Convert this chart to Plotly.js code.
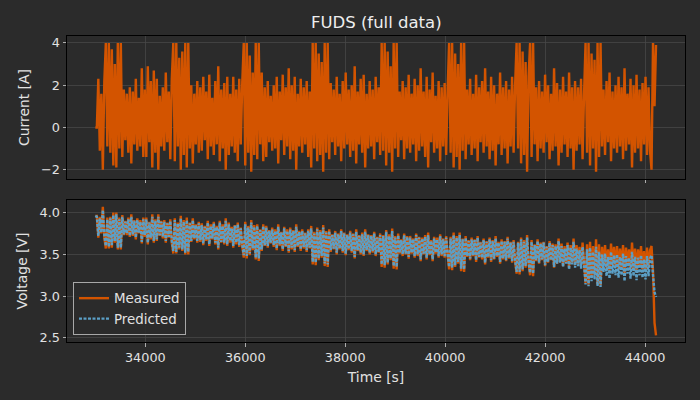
<!DOCTYPE html>
<html>
<head>
<meta charset="utf-8">
<script src="https://cdn.plot.ly/plotly-3.0.1.min.js"></script>
<style>
html,body{margin:0;padding:0;background:#2b2b2b;}
#chart{width:700px;height:400px;}
</style>
</head>
<body>
<div id="chart"></div>
<script>
// Sampling of the record (seconds)
const startTime = 33000;
const sampleStep = 30;

// Current [A]
const current = [
0,0,2.3,-1.1,1.6,-2.0,2.2,4.0,-0.9,4.0,
-1.2,3.7,-1.8,3.0,-1.9,4.0,-1.0,4.0,-1.4,1.8,
-0.6,1.6,-1.2,1.9,-1.7,1.7,-0.8,2.3,-1.1,1.4,
-0.9,2.8,-1.4,1.8,-1.4,2.9,-0.7,2.2,-1.9,2.7,
-1.2,2.3,-2.0,1.5,-0.9,1.9,-1.1,2.6,-0.7,1.7,
-1.5,2.3,4.0,-1.6,4.0,-0.9,3.3,-2.0,3.6,-1.3,
4.0,-1.9,4.0,-1.0,2.0,-1.7,1.6,-0.8,2.2,-1.2,
1.9,-1.1,2.4,-0.6,1.7,-1.5,2.5,-0.9,1.4,-1.3,
2.2,-0.8,2.9,-1.6,1.8,-1.0,2.1,-2.0,2.4,-1.3,
1.6,-0.9,2.4,-1.2,1.8,-1.6,2.3,-0.8,2.1,4.0,
-1.8,4.0,-1.2,3.4,-2.1,2.6,-1.3,4.0,-1.5,4.0,
-0.8,2.6,-1.6,1.9,-1.4,2.2,-0.7,1.5,-1.1,2.0,
-1.0,2.4,-1.7,1.7,-0.6,2.5,-1.3,1.9,-0.9,2.8,
-1.5,2.0,-1.1,2.4,-2.0,1.6,-0.9,2.3,-1.2,1.9,
-0.8,2.2,-1.4,1.7,-1.9,4.0,-1.0,4.0,-1.6,3.5,
-1.3,3.1,-2.1,4.0,-1.2,4.0,-1.5,2.1,-0.7,1.8,
-1.3,2.4,-0.9,1.6,-1.6,2.2,-1.0,2.6,-0.8,1.8,
-1.4,2.0,-1.1,2.9,-1.7,1.7,-0.8,2.3,-1.2,2.5,
-1.9,1.6,-1.0,2.2,-0.9,1.8,-1.5,2.4,-0.7,1.9,
-1.3,4.0,-1.1,4.0,-1.8,3.6,-1.2,2.9,-2.1,4.0,
-1.0,4.0,-1.4,1.7,-0.6,2.2,-1.5,1.9,-1.0,2.5,
-1.2,1.6,-0.8,2.3,-1.6,2.0,-1.1,2.8,-0.9,1.7,
-1.4,2.4,-1.9,1.8,-0.7,2.6,-1.2,1.5,-1.0,2.2,
-1.6,1.9,-0.9,2.1,-1.3,1.8,4.0,-1.2,4.0,-1.9,
3.5,-1.4,3.0,-2.0,4.0,-1.1,4.0,-1.5,1.8,-0.8,
2.3,-1.3,1.6,-1.0,2.5,-1.6,1.9,-0.7,2.2,-1.2,
2.8,-0.9,1.7,-1.5,2.4,-1.1,2.0,-1.8,1.6,-0.8,
2.6,-1.3,1.9,-1.0,2.2,-1.7,1.8,-0.9,2.4,-1.2,
2.0,4.0,-1.0,4.0,-1.7,3.6,-1.3,3.1,-2.1,2.4,
4.0,-1.4,4.0,-0.8,1.9,-1.6,2.2,-1.0,1.7,-1.2,
2.5,-0.7,2.0,-1.5,1.6,-1.1,2.8,-0.9,2.1,-1.8,
1.8,-1.2,2.4,-0.8,1.7,-1.4,2.6,-1.0,1.9,-2.0,
2.2,-1.1,1.9,-0.8,2.3,-1.5,1.6,4.0,-1.2,4.0,
-1.8,3.5,-1.0,3.2,-2.1,4.0,-1.4,4.0,-0.9,1.8,
-1.3,2.2,-0.7,2.6,-1.6,1.7,-1.0,2.0,-1.2,2.4,
-0.9,1.9,-1.5,2.8,-1.1,1.6,-0.8,2.3,-1.9,2.0,
-1.2,2.5,-1.0,1.8,-1.6,2.1,-0.8,2.4,-1.3,1.9,
-1.1,-2.0,4.0,1.0,3.9
];

// Voltage [V], measured
const voltageMeasured = [
3.96,3.96,3.70,3.95,3.75,4.07,3.70,3.57,3.94,3.57,
3.95,3.58,4.00,3.64,4.00,3.56,3.94,3.56,3.97,3.73,
3.90,3.73,3.94,3.71,3.98,3.72,3.91,3.68,3.93,3.75,
3.91,3.63,3.94,3.71,3.94,3.62,3.89,3.68,3.98,3.64,
3.92,3.66,3.98,3.72,3.90,3.69,3.91,3.64,3.88,3.70,
3.92,3.64,3.51,3.93,3.51,3.88,3.56,3.96,3.54,3.91,
3.50,3.94,3.50,3.88,3.65,3.93,3.68,3.86,3.64,3.89,
3.65,3.87,3.61,3.84,3.66,3.90,3.60,3.86,3.68,3.89,
3.62,3.84,3.56,3.90,3.64,3.86,3.62,3.93,3.60,3.88,
3.64,3.83,3.58,3.85,3.62,3.88,3.59,3.82,3.60,3.46,
3.89,3.45,3.84,3.49,3.91,3.55,3.85,3.44,3.86,3.42,
3.80,3.54,3.86,3.60,3.84,3.58,3.79,3.63,3.82,3.59,
3.80,3.55,3.86,3.60,3.77,3.54,3.83,3.59,3.80,3.52,
3.82,3.56,3.79,3.53,3.86,3.59,3.78,3.54,3.80,3.57,
3.76,3.53,3.80,3.57,3.84,3.38,3.77,3.37,3.82,3.43,
3.79,3.46,3.85,3.36,3.78,3.35,3.80,3.53,3.74,3.56,
3.78,3.50,3.75,3.56,3.80,3.52,3.76,3.49,3.74,3.55,
3.78,3.52,3.75,3.45,3.80,3.54,3.73,3.50,3.76,3.48,
3.80,3.54,3.74,3.50,3.73,3.52,3.77,3.48,3.71,3.52,
3.75,3.35,3.73,3.34,3.79,3.38,3.74,3.43,3.81,3.33,
3.72,3.32,3.75,3.51,3.68,3.48,3.75,3.50,3.72,3.45,
3.72,3.51,3.69,3.46,3.75,3.48,3.71,3.42,3.70,3.50,
3.73,3.44,3.76,3.49,3.67,3.42,3.71,3.51,3.70,3.46,
3.74,3.48,3.69,3.46,3.72,3.49,3.32,3.71,3.31,3.76,
3.35,3.72,3.39,3.76,3.30,3.69,3.29,3.72,3.47,3.67,
3.43,3.70,3.48,3.68,3.41,3.72,3.46,3.65,3.44,3.69,
3.38,3.66,3.46,3.70,3.41,3.67,3.44,3.72,3.47,3.65,
3.39,3.68,3.44,3.66,3.42,3.71,3.45,3.65,3.40,3.67,
3.42,3.27,3.65,3.26,3.70,3.30,3.67,3.34,3.73,3.39,
3.25,3.67,3.24,3.62,3.42,3.68,3.39,3.64,3.43,3.65,
3.36,3.60,3.40,3.66,3.43,3.63,3.34,3.62,3.39,3.69,
3.41,3.63,3.36,3.60,3.41,3.64,3.34,3.61,3.40,3.69,
3.37,3.61,3.39,3.59,3.36,3.64,3.41,3.16,3.62,3.14,
3.65,3.22,3.60,3.25,3.68,3.14,3.62,3.13,3.59,3.37,
3.61,3.33,3.56,3.30,3.63,3.36,3.59,3.34,3.60,3.31,
3.57,3.34,3.61,3.27,3.58,3.36,3.56,3.31,3.64,3.33,
3.57,3.29,3.56,3.35,3.60,3.32,3.54,3.30,3.58,3.34,
3.55,3.60,3.30,2.68,2.53
];

// Voltage [V], predicted
const voltagePredicted = [
3.96,3.95,3.72,3.93,3.76,4.03,3.72,3.60,3.92,3.59,
3.93,3.61,3.97,3.66,3.98,3.58,3.92,3.58,3.95,3.74,
3.89,3.75,3.92,3.72,3.95,3.74,3.90,3.70,3.91,3.76,
3.89,3.65,3.92,3.73,3.92,3.64,3.88,3.70,3.95,3.66,
3.90,3.68,3.95,3.73,3.89,3.71,3.89,3.66,3.87,3.71,
3.90,3.66,3.54,3.91,3.53,3.87,3.58,3.93,3.56,3.89,
3.52,3.91,3.53,3.87,3.66,3.91,3.69,3.85,3.66,3.87,
3.67,3.85,3.63,3.83,3.68,3.88,3.62,3.84,3.69,3.87,
3.64,3.83,3.58,3.88,3.65,3.84,3.64,3.90,3.62,3.86,
3.66,3.81,3.60,3.84,3.64,3.86,3.61,3.81,3.62,3.49,
3.86,3.48,3.82,3.51,3.88,3.57,3.83,3.46,3.84,3.45,
3.79,3.56,3.84,3.61,3.82,3.60,3.78,3.64,3.80,3.61,
3.78,3.57,3.83,3.62,3.76,3.56,3.81,3.60,3.78,3.54,
3.80,3.58,3.78,3.55,3.83,3.60,3.77,3.56,3.78,3.59,
3.75,3.55,3.78,3.58,3.81,3.41,3.75,3.40,3.80,3.45,
3.77,3.48,3.82,3.39,3.76,3.38,3.78,3.55,3.73,3.57,
3.76,3.52,3.74,3.57,3.78,3.54,3.75,3.51,3.73,3.56,
3.76,3.54,3.74,3.47,3.77,3.55,3.72,3.52,3.74,3.50,
3.77,3.55,3.73,3.52,3.72,3.54,3.75,3.50,3.70,3.53,
3.73,3.38,3.72,3.37,3.77,3.40,3.72,3.45,3.78,3.36,
3.70,3.35,3.73,3.52,3.67,3.50,3.73,3.51,3.71,3.47,
3.70,3.52,3.68,3.48,3.73,3.50,3.70,3.44,3.69,3.51,
3.71,3.46,3.73,3.50,3.66,3.44,3.69,3.52,3.68,3.48,
3.72,3.50,3.68,3.48,3.70,3.50,3.35,3.69,3.34,3.73,
3.37,3.70,3.41,3.73,3.33,3.68,3.32,3.70,3.48,3.66,
3.45,3.68,3.49,3.67,3.43,3.70,3.47,3.64,3.46,3.67,
3.40,3.65,3.47,3.68,3.43,3.66,3.45,3.69,3.48,3.64,
3.41,3.66,3.45,3.65,3.43,3.69,3.46,3.64,3.42,3.65,
3.43,3.29,3.64,3.29,3.68,3.32,3.65,3.36,3.70,3.40,
3.28,3.65,3.27,3.61,3.43,3.66,3.40,3.63,3.44,3.64,
3.37,3.59,3.41,3.64,3.43,3.61,3.35,3.60,3.39,3.66,
3.40,3.60,3.35,3.57,3.39,3.61,3.32,3.58,3.38,3.65,
3.34,3.57,3.36,3.55,3.33,3.59,3.37,3.14,3.56,3.12,
3.58,3.18,3.53,3.20,3.59,3.12,3.53,3.11,3.50,3.29,
3.51,3.24,3.47,3.21,3.53,3.27,3.49,3.25,3.50,3.22,
3.47,3.25,3.51,3.18,3.48,3.27,3.46,3.21,3.53,3.24,
3.47,3.19,3.46,3.25,3.49,3.22,3.44,3.20,3.48,3.24,
3.45,3.49,3.25,3.05,2.99
];

const timeTicks = [34000, 36000, 38000, 40000, 42000, 44000];
const currentTicks = [-2, 0, 2, 4];
const voltageTicks = [2.5, 3.0, 3.5, 4.0];

const time = current.map((_, i) => startTime + i * sampleStep);

const BG = '#2b2b2b';
const GRID = '#474747';
const TXT = '#e2e2e2';
const ORANGE = '#d35400';
const BLUE = '#5b9fc6';
const FONT = 'DejaVu Sans, Liberation Sans, sans-serif';

const traces = [
  {x: time, y: current, xaxis: 'x', yaxis: 'y', type: 'scatter', mode: 'lines',
   line: {color: ORANGE, width: 2.4, simplify: false}, showlegend: false, hoverinfo: 'skip'},
  {x: time, y: voltageMeasured, xaxis: 'x2', yaxis: 'y2', type: 'scatter', mode: 'lines',
   name: 'Measured', line: {color: ORANGE, width: 2.4, simplify: false}, hoverinfo: 'skip'},
  {x: time, y: voltagePredicted, xaxis: 'x2', yaxis: 'y2', type: 'scatter', mode: 'lines',
   name: 'Predicted', line: {color: BLUE, width: 2.4, dash: '3px,1.5px', simplify: false}, hoverinfo: 'skip'}
];

const axisCommon = {
  showline: true, linecolor: '#000000', linewidth: 1, mirror: true,
  showgrid: true, gridcolor: GRID, gridwidth: 0.8, zeroline: false,
  ticks: 'outside', ticklen: 3.5, tickwidth: 0.8, tickcolor: '#d0d0d0',
  tickfont: {family: FONT, size: 12.8, color: TXT}
};

const xRange = [32433, 44800];

const layout = {
  width: 700, height: 400,
  paper_bgcolor: BG, plot_bgcolor: BG,
  margin: {l: 67, r: 15, t: 36, b: 58},
  font: {family: FONT, color: TXT},
  title: {text: 'FUDS (full data)', font: {family: FONT, size: 16.5, color: '#eeeeee'},
          x: 0.5375, xanchor: 'center', y: 0.945, yanchor: 'middle'},
  showlegend: true,
  legend: {x: 0.0097, y: 0.023, xanchor: 'left', yanchor: 'bottom',
           bgcolor: 'rgba(43,43,43,0.85)', bordercolor: '#a8a8a8', borderwidth: 1,
           font: {family: FONT, size: 13.4, color: TXT}, itemwidth: 30, tracegroupgap: 0},
  xaxis: Object.assign({}, axisCommon, {domain: [0, 1], anchor: 'y', range: xRange,
           tickvals: timeTicks, showticklabels: false}),
  yaxis: Object.assign({}, axisCommon, {domain: [0.5327, 1], anchor: 'x', range: [-2.44, 4.33],
           tickvals: currentTicks, ticktext: currentTicks.map(v => v < 0 ? '\u2212' + Math.abs(v) : String(v)),
           title: {text: 'Current [A]', font: {family: FONT, size: 13.9, color: TXT}, standoff: 8}}),
  xaxis2: Object.assign({}, axisCommon, {domain: [0, 1], anchor: 'y2', range: xRange,
           tickvals: timeTicks, ticktext: timeTicks.map(String),
           title: {text: 'Time [s]', font: {family: FONT, size: 13.9, color: TXT}, standoff: 8}}),
  yaxis2: Object.assign({}, axisCommon, {domain: [0, 0.464], anchor: 'x2', range: [2.452, 4.15],
           tickvals: voltageTicks, ticktext: voltageTicks.map(v => v.toFixed(1)),
           title: {text: 'Voltage [V]', font: {family: FONT, size: 13.9, color: TXT}, standoff: 8}})
};

Plotly.newPlot('chart', traces, layout, {staticPlot: true, displayModeBar: false});
</script>
</body>
</html>
